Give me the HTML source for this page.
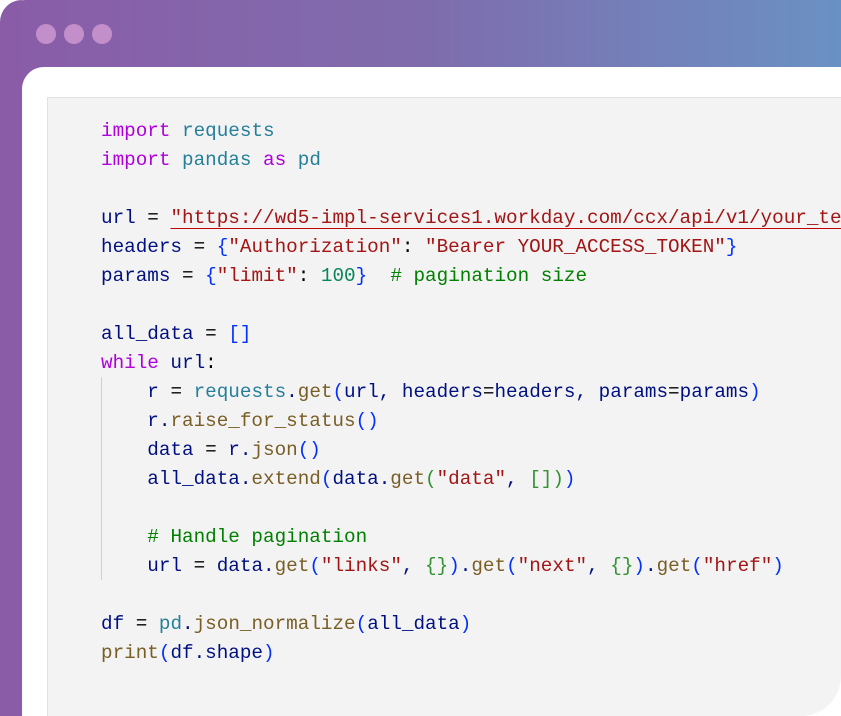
<!DOCTYPE html>
<html><head><meta charset="utf-8"><style>
html,body{margin:0;padding:0;width:841px;height:716px;overflow:hidden;background:#fff}
.outer{position:absolute;left:0;top:0;width:841px;height:140px;border-top-left-radius:26px;background:linear-gradient(90deg,#8a5ca8 0%,#7f6cad 50%,#6a91c3 100%)}
.left{position:absolute;left:0;top:0;width:22px;height:716px;background:#8a5ca8;border-top-left-radius:26px}
.dot{position:absolute;top:24px;width:20px;height:20px;border-radius:50%;background:#c38fca}
.card{position:absolute;left:22px;top:67px;width:819px;height:649px;background:#fff;border-top-left-radius:22px}
.panel{position:absolute;left:47px;top:97px;width:794px;height:619px;background:#f3f3f3;border-left:1px solid #e2e2e2;border-top:1px solid #e2e2e2;border-bottom-right-radius:40px;box-sizing:border-box}
pre{position:absolute;left:101px;top:117px;margin:0;font-family:"Liberation Mono",monospace;font-size:19.3px;line-height:29px;color:#001080;white-space:pre;width:740px;overflow:hidden}
.k{color:#af00db}.m{color:#267f99}.s{color:#a31515}.n{color:#098658}.c{color:#008000}.f{color:#795e26}.b{color:#0431fa}.g{color:#319331}.o{color:#000}
.u{text-decoration:underline;text-decoration-color:#c00000;text-underline-offset:5px}
.guide{position:absolute;left:101px;top:377px;width:1px;height:203px;background:#d0d0d0}
</style></head><body>
<div class="outer"></div><div class="left"></div>
<div class="dot" style="left:36px"></div><div class="dot" style="left:64px"></div><div class="dot" style="left:92px"></div>
<div class="card"></div><div class="panel"></div>
<div class="guide"></div>
<pre><span class="k">import</span> <span class="m">requests</span>
<span class="k">import</span> <span class="m">pandas</span> <span class="k">as</span> <span class="m">pd</span>

url <span class="o">=</span> <span class="s u">"https://wd5-impl-services1.workday.com/ccx/api/v1/your_te</span>
headers <span class="o">=</span> <span class="b">{</span><span class="s">"Authorization"</span><span class="o">:</span> <span class="s">"Bearer YOUR_ACCESS_TOKEN"</span><span class="b">}</span>
params <span class="o">=</span> <span class="b">{</span><span class="s">"limit"</span><span class="o">:</span> <span class="n">100</span><span class="b">}</span>  <span class="c"># pagination size</span>

all_data <span class="o">=</span> <span class="b">[]</span>
<span class="k">while</span> url<span class="o">:</span>
    r <span class="o">=</span> <span class="m">requests</span>.<span class="f">get</span><span class="b">(</span>url, headers<span class="o">=</span>headers, params<span class="o">=</span>params<span class="b">)</span>
    r.<span class="f">raise_for_status</span><span class="b">()</span>
    data <span class="o">=</span> r.<span class="f">json</span><span class="b">()</span>
    all_data.<span class="f">extend</span><span class="b">(</span>data.<span class="f">get</span><span class="g">(</span><span class="s">"data"</span>, <span class="g">[]</span><span class="g">)</span><span class="b">)</span>

    <span class="c"># Handle pagination</span>
    url <span class="o">=</span> data.<span class="f">get</span><span class="b">(</span><span class="s">"links"</span>, <span class="g">{}</span><span class="b">)</span>.<span class="f">get</span><span class="b">(</span><span class="s">"next"</span>, <span class="g">{}</span><span class="b">)</span>.<span class="f">get</span><span class="b">(</span><span class="s">"href"</span><span class="b">)</span>

df <span class="o">=</span> <span class="m">pd</span>.<span class="f">json_normalize</span><span class="b">(</span>all_data<span class="b">)</span>
<span class="f">print</span><span class="b">(</span>df.shape<span class="b">)</span></pre>
</body></html>
